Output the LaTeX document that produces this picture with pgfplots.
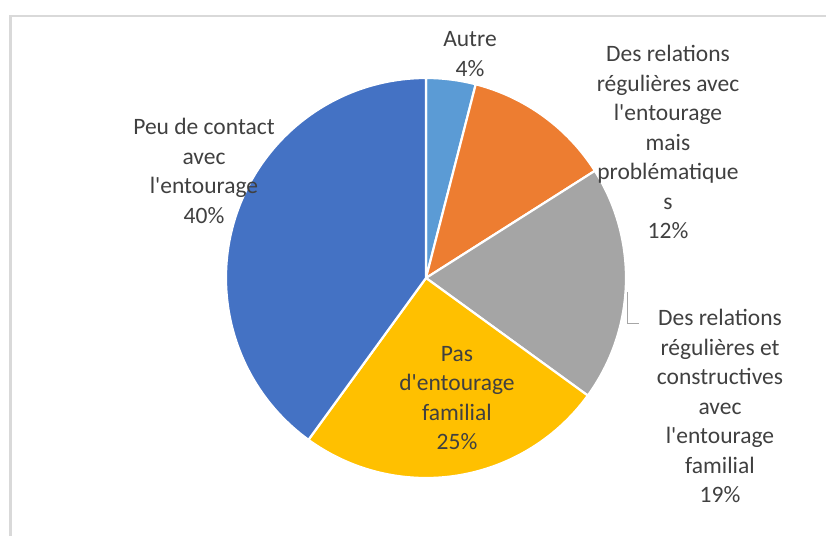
\documentclass[border=0pt]{standalone}
\usepackage{pgfplots}
\usepackage{pgfplotstable}
\pgfplotsset{compat=1.18}
\usepackage{fontspec}
\setmainfont{Carlito}[Ligatures=TeXOff]

\definecolor{cAutre}{HTML}{5B9BD5}
\definecolor{cProb}{HTML}{ED7D31}
\definecolor{cConst}{HTML}{A5A5A5}
\definecolor{cPas}{HTML}{FFC000}
\definecolor{cPeu}{HTML}{4472C4}
\definecolor{txt}{HTML}{404040}

% parts en %, dans l'ordre horaire depuis midi
\pgfplotstableread[col sep=comma]{
share,colour
4,cAutre
12,cProb
19,cConst
25,cPas
40,cPeu
}\piedata

\begin{document}
\begin{tikzpicture}
\begin{axis}[
    x=1bp, y=1bp,
    xmin=0, xmax=826, ymin=0, ymax=536,
    hide axis, clip=false,
]
% cadre de la zone de graphique
\draw[gray!30, line width=2bp] (axis cs:10.5,-10) |- (axis cs:840,519.5);

\pgfplotstablegetrowsof{\piedata}
\pgfmathtruncatemacro\nrows{\pgfplotsretval-1}
\def\angA{90}
\pgfplotsforeachungrouped \i in {0,...,\nrows}{
  \pgfplotstablegetelem{\i}{share}\of\piedata \let\share\pgfplotsretval
  \pgfplotstablegetelem{\i}{colour}\of\piedata \let\col\pgfplotsretval
  \pgfmathsetmacro\angB{\angA-3.6*\share}
  \edef\slice{\noexpand\filldraw[fill=\col, draw=white, line width=2.2bp, line join=round]
     (axis cs:426,258) -- ++(\angA:200bp) arc[start angle=\angA, end angle=\angB, radius=200bp] -- cycle;}
  \slice
  \let\angA\angB
}

% ligne de rappel
\draw[gray!70, line width=1bp] (axis cs:627,244) |- (axis cs:639,212);

\begin{scope}[every node/.style={align=center, text=txt,
    font=\fontsize{23.5bp}{29.5bp}\selectfont, inner sep=0pt}]
\node at (axis cs:470,482) {Autre\\4\%};
\node at (axis cs:668,394) {Des relations\\régulières avec\\l'entourage\\mais\\problématique\\s\\12\%};
\node at (axis cs:720,130) {Des relations\\régulières et\\constructives\\avec\\l'entourage\\familial\\19\%};
\node at (axis cs:457,138) {Pas\\d'entourage\\familial\\25\%};
\node at (axis cs:204,365) {Peu de contact\\avec\\l'entourage\\40\%};
\end{scope}
\end{axis}
\pgfresetboundingbox
\path (0,0) rectangle (826bp,536bp);
\end{tikzpicture}
\end{document}
